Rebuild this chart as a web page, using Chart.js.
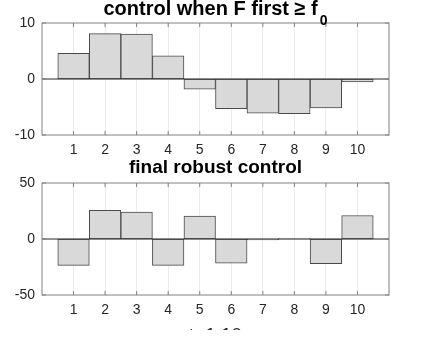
<!DOCTYPE html>
<html>
<head>
<meta charset="utf-8">
<script src="https://cdn.jsdelivr.net/npm/chart.js@4.4.1/dist/chart.umd.min.js"></script>
<style>
  html, body { margin: 0; padding: 0; background: #fff; width: 422px; height: 342px; overflow: hidden; }
  canvas { position: absolute; left: 0; }
  #c1 { top: 0; }
  #c2 { top: 158px; }
</style>
</head>
<body>
<canvas id="c1" width="422" height="158"></canvas>
<canvas id="c2" width="422" height="172"></canvas>
<script>
// ---- data ----
const categories = [1, 2, 3, 4, 5, 6, 7, 8, 9, 10];
const firstControl = [4.6, 8.1, 8.0, 4.15, -1.8, -5.3, -6.1, -6.2, -5.15, -0.5];
const robustControl = [-23.5, 25.5, 24, -23.5, 20.5, -21.5, -0.9, 0.4, -22, 21];
const xTickValues = [1, 2, 3, 4, 5, 6, 7, 8, 9, 10];
const topYTicks = [-10, 0, 10];
const bottomYTicks = [-50, 0, 50];
const title1 = 'control when F first \u2265 f';
const title1Sub = '0';
const title2 = 'final robust control';
const xLabel = 't=1:10';

const FONT = '"Liberation Sans", Arial, Helvetica, sans-serif';
const BOX = '#808080';
const TEXT = '#262626';

const decorPlugin = {
  id: 'decor',
  afterDatasetsDraw(chart) {
    const { ctx, chartArea: a, scales } = chart;
    const y0 = scales.y.getPixelForValue(0);
    ctx.save();
    ctx.strokeStyle = '#262626';
    ctx.lineWidth = 1;
    ctx.beginPath();
    ctx.moveTo(a.left, y0);
    ctx.lineTo(a.right, y0);
    ctx.stroke();
    ctx.restore();
  },
  afterDraw(chart, args, opts) {
    const { ctx, chartArea: a, scales } = chart;
    ctx.save();
    ctx.strokeStyle = BOX;
    ctx.lineWidth = 1;
    ctx.strokeRect(a.left, a.top, a.right - a.left, a.bottom - a.top);
    // inward ticks
    ctx.beginPath();
    scales.x.ticks.forEach(t => {
      const x = scales.x.getPixelForValue(t.value);
      ctx.moveTo(x, a.bottom); ctx.lineTo(x, a.bottom - 4);
      ctx.moveTo(x, a.top); ctx.lineTo(x, a.top + 4);
    });
    scales.y.ticks.forEach(t => {
      const y = scales.y.getPixelForValue(t.value);
      ctx.moveTo(a.left, y); ctx.lineTo(a.left + 4, y);
      ctx.moveTo(a.right, y); ctx.lineTo(a.right - 4, y);
    });
    ctx.stroke();
    // title
    const cx = (a.left + a.right) / 2;
    const tf = opts.titleSize;
    ctx.fillStyle = '#000';
    ctx.textBaseline = 'alphabetic';
    ctx.font = 'bold ' + tf + 'px ' + FONT;
    const w1 = ctx.measureText(opts.title).width;
    let w2 = 0;
    if (opts.sub) {
      ctx.font = 'bold 14px ' + FONT;
      w2 = ctx.measureText(opts.sub).width + 2;
    }
    const start = cx - (w1 + w2) / 2;
    ctx.font = 'bold ' + tf + 'px ' + FONT;
    ctx.textAlign = 'left';
    ctx.fillText(opts.title, start, opts.titleY);
    if (opts.sub) {
      ctx.font = 'bold 14px ' + FONT;
      ctx.fillText(opts.sub, start + w1 + 2, opts.titleY + 10);
    }
    if (opts.xlabel) {
      ctx.font = '19px ' + FONT;
      ctx.fillStyle = TEXT;
      ctx.textAlign = 'center';
      ctx.textBaseline = 'top';
      ctx.fillText(opts.xlabel, cx, opts.xlabelY);
    }
    ctx.restore();
  }
};

function makeChart(id, values, yTicks, padTop, xHeight, decor) {
  const ymin = yTicks[0], ymax = yTicks[yTicks.length - 1];
  return new Chart(document.getElementById(id), {
    type: 'bar',
    data: {
      datasets: [{
        data: categories.map((c, i) => ({ x: c, y: values[i] })),
        backgroundColor: '#d9d9d9',
        borderColor: '#4a4a4a',
        borderWidth: 1,
        borderSkipped: false,
        barPercentage: 1,
        categoryPercentage: 1
      }]
    },
    options: {
      responsive: false,
      animation: false,
      events: [],
      layout: { padding: { top: padTop, right: 33, left: 0, bottom: 0 } },
      plugins: { legend: { display: false }, tooltip: { enabled: false }, decor: decor },
      scales: {
        x: {
          type: 'linear',
          offset: false,
          min: 0, max: 11,
          afterBuildTicks: s => { s.ticks = xTickValues.map(v => ({ value: v })); },
          afterFit: s => { s.height = xHeight; },
          grid: { display: true, color: '#ebebeb', drawTicks: false, offset: false },
          border: { display: false },
          ticks: { color: TEXT, font: { family: FONT, size: 14 }, padding: 7, maxRotation: 0, autoSkip: false }
        },
        y: {
          min: ymin, max: ymax,
          afterBuildTicks: s => { s.ticks = yTicks.map(v => ({ value: v })); },
          afterFit: s => { s.width = 42; },
          grid: { display: false, drawTicks: false },
          border: { display: false },
          ticks: { color: TEXT, font: { family: FONT, size: 14 }, padding: 7 }
        }
      }
    },
    plugins: [decorPlugin]
  });
}

makeChart('c1', firstControl, topYTicks, 23, 23, { title: title1, sub: title1Sub, titleY: 15, titleSize: 20 });
makeChart('c2', robustControl, bottomYTicks, 25, 35, { title: title2, titleY: 14.5, titleSize: 19, xlabel: xLabel, xlabelY: 168 });
</script>
</body>
</html>
